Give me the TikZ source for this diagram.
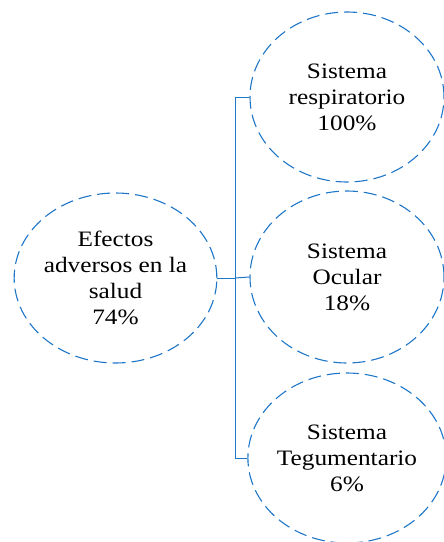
\documentclass[tikz,border=0pt]{standalone}
\usepackage{fontspec}
\setmainfont{Liberation Serif}[FakeStretch=1.15]
\usetikzlibrary{shapes.geometric}
\definecolor{lineblue}{RGB}{30,118,200}
\tikzset{
  bubble/.style={ellipse, draw=lineblue, line width=1.1pt, dash pattern=on 13pt off 6pt,
    minimum width=#1, inner sep=0pt, align=center, text=black,
    font=\fontsize{22}{26}\selectfont},
  link/.style={draw=lineblue, line width=1pt}
}
\begin{document}
\begin{tikzpicture}[x=1pt,y=-1pt]
\useasboundingbox (0,0) rectangle (444,542);
\node[bubble=201pt, minimum height=170pt] (L) at (115.5,278) {Efectos\\adversos en la\\salud\\74\%};
\node[bubble=194pt, minimum height=170pt] (T) at (347,97) {Sistema\\respiratorio\\100\%};
\node[bubble=194pt, minimum height=172pt] (M) at (347,277) {Sistema\\Ocular\\18\%};
\node[bubble=194pt, minimum height=170pt] (B) at (347,458) {Sistema\\Tegumentario\\6\%};
\coordinate (j) at (235,278);
\draw[link] (L.east) -- (j);
\draw[link] (j) |- (T.west);
\draw[link] (j) |- (B.west);
\draw[link] (j) -- (M.west);
\end{tikzpicture}
\end{document}
